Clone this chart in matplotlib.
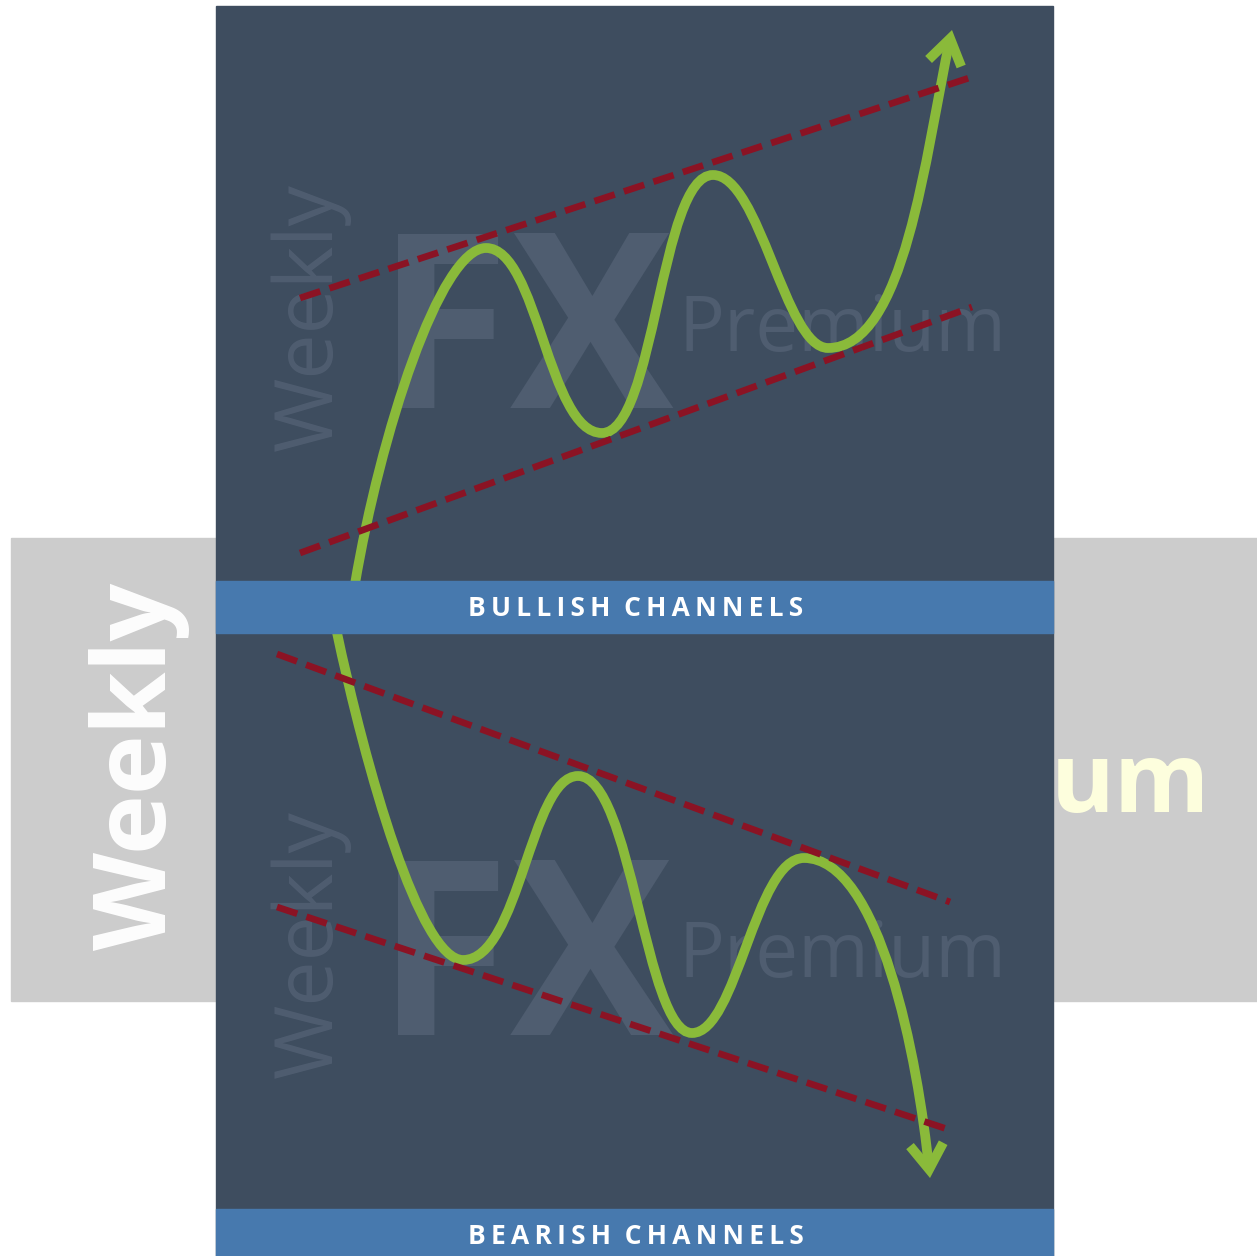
import matplotlib
matplotlib.use("Agg")
import matplotlib.pyplot as plt
from matplotlib.patches import Rectangle, FancyArrowPatch, ArrowStyle
from matplotlib.path import Path

# canvas is laid out in pixel units (y grows downward)
W, H = 1257, 1256

BANNER_LABELS = ["BULLISH CHANNELS", "BEARISH CHANNELS"]
WATERMARK_WORDS = ["Weekly", "FX", "Premium"]

# bezier vertices of the price path (start point + 3 per segment)
BULL_X = [355, 380, 440, 486, 538, 548, 602, 655, 660, 713, 760, 785, 828, 905, 925, 952]
BULL_Y = [584, 436, 248, 248, 248, 433, 433, 433, 175, 175, 175, 348, 348, 348, 155, 30]
BEAR_X = [336, 366, 420, 463, 520, 530, 578, 632, 645, 692, 737, 755, 804, 880, 918, 930]
BEAR_Y = [628, 770, 960, 960, 960, 776, 776, 776, 1033, 1033, 1033, 858, 858, 858, 1060, 1178]

# channel lines: (x0, y0, x1, y1)
BULL_UPPER = (300, 298, 972, 77)
BULL_LOWER = (300, 553, 972, 307)
BEAR_UPPER = (277, 654, 950, 902)
BEAR_LOWER = (277, 907, 950, 1130)

DARK = "#3e4d5f"
MARK = "#4f5d70"
BLUE = "#4779ae"
GREY = "#cccccc"
GREEN = "#8aba3a"
RED = "#8b1324"
FONTS = ["Open Sans", "DejaVu Sans"]


def spaced(label):
    # fake letter spacing with thin spaces
    return "  ".join("\u2009".join(word) for word in label.split(" "))


def bezier_path(xs, ys):
    verts = list(zip(xs, ys))
    codes = [Path.MOVETO] + [Path.CURVE4] * (len(verts) - 1)
    return Path(verts, codes)


fig = plt.figure(figsize=(W / 100, H / 100), dpi=100)
fig.patch.set_facecolor("white")
ax = fig.add_axes([0, 0, 1, 1])
ax.set_xlim(0, W)
ax.set_ylim(H, 0)
ax.axis("off")

# grey side boxes and the clipped watermark bits on them
ax.add_patch(Rectangle((11, 538), 205, 463, color=GREY, zorder=1))
ax.add_patch(Rectangle((1053, 538), 204, 463, color=GREY, zorder=1))
ax.text(166, 950, "Weekly", rotation=90, rotation_mode="anchor", ha="left", va="baseline",
        fontsize=73, fontweight="bold", family=FONTS, color="#fdfdfd", zorder=2)
ax.text(1051, 812, "um", ha="left", va="baseline",
        fontsize=70, fontweight="bold", family=FONTS, color="#fdfedd", zorder=2)

# dark panel
ax.add_patch(Rectangle((216, 6), 837, H - 6, color=DARK, zorder=3))

# watermarks in both halves
for fx_base, prem_base, weekly_start in [(408, 351, 451), (1035, 977, 1078)]:
    ax.text(332, weekly_start, WATERMARK_WORDS[0], rotation=90, rotation_mode="anchor",
            ha="left", va="baseline", fontsize=58, family="Open Sans", color=MARK, zorder=4)
    ax.text(376, fx_base, WATERMARK_WORDS[1], ha="left", va="baseline",
            fontsize=176, fontweight="bold", family="Open Sans", color=MARK, zorder=4)
    ax.text(678, prem_base, WATERMARK_WORDS[2], ha="left", va="baseline",
            fontsize=55, family="Open Sans", color=MARK, zorder=4)

# price paths with arrow heads
head = ArrowStyle("->", head_length=18, head_width=12)
for xs, ys in [(BULL_X, BULL_Y), (BEAR_X, BEAR_Y)]:
    arrow = FancyArrowPatch(path=bezier_path(xs, ys), arrowstyle=head, mutation_scale=1,
                            lw=7, color=GREEN, capstyle="butt", joinstyle="miter", zorder=5)
    ax.add_patch(arrow)

# channel boundaries
for x0, y0, x1, y1 in [BULL_UPPER, BULL_LOWER, BEAR_UPPER, BEAR_LOWER]:
    ax.plot([x0, x1], [y0, y1], color=RED, lw=4.8, dashes=(3.2, 1.45),
            solid_capstyle="butt", dash_capstyle="butt", zorder=6)

# banners
for (top, height), label in zip([(581, 52), (1209, 47)], BANNER_LABELS):
    ax.add_patch(Rectangle((216, top), 837, height, color=BLUE, zorder=7))
    ax.text(636, top + 27, spaced(label), ha="center", va="center", fontsize=19,
            fontweight="bold", family=FONTS, color="white", zorder=8)

fig.savefig("out.png", dpi=100, facecolor="white")
